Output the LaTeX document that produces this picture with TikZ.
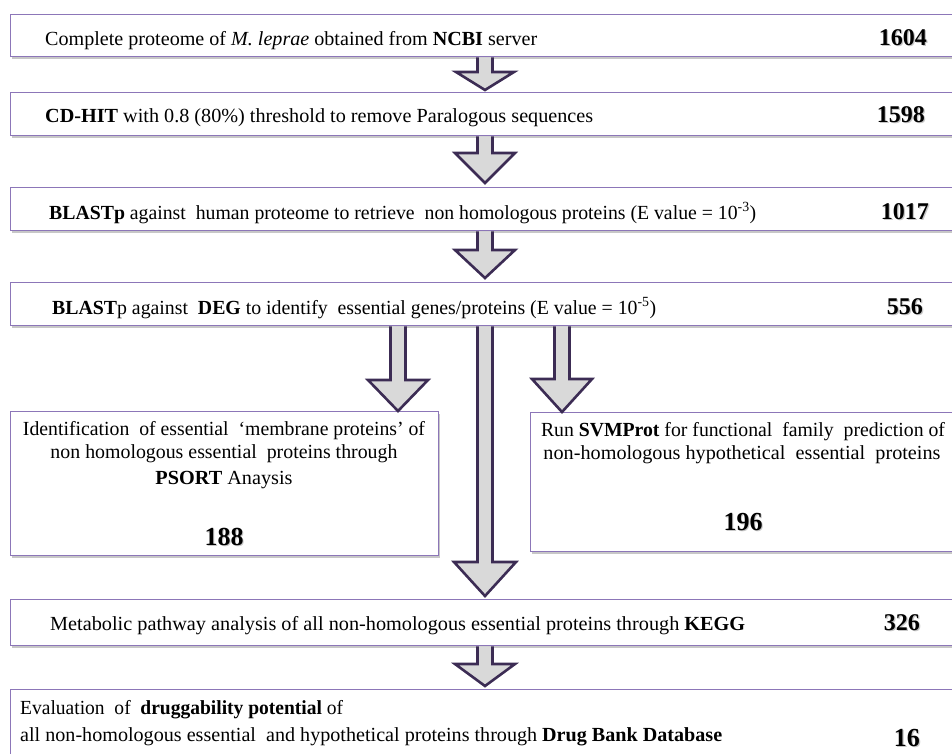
\documentclass[tikz,border=0pt]{standalone}
\usepackage{fontspec}
\setmainfont{Liberation Serif}
\usetikzlibrary{shadows,calc}
\definecolor{boxborder}{RGB}{140,118,184}
\definecolor{arrowline}{RGB}{60,44,84}
\definecolor{arrowfill}{RGB}{217,217,217}
\newcommand\fitw[2]{\resizebox{#1}{\height}{#2}}
\newcommand\shnum[1]{\makebox[0pt][l]{\hspace{1.2pt}\raisebox{-1.2pt}{\color{black!22}#1}}#1}
\newcommand\blockarrow[4]{%
  \draw[barrow] let \p1=#1, \p2=#2 in
    (\x1-7.5pt,\y1) -- (\x1-7.5pt,\y2+#3) -- (\x1-#4,\y2+#3) -- (\x2,\y2)
    -- (\x1+#4,\y2+#3) -- (\x1+7.5pt,\y2+#3) -- (\x1+7.5pt,\y1);}
\tikzset{
  stepbox/.style={draw=boxborder, line width=1.4pt, fill=white, anchor=north west,
    drop shadow={shadow xshift=1.5pt, shadow yshift=-2pt, fill=black!40, opacity=0.55}},
  barrow/.style={draw=arrowline, fill=arrowfill, line width=2.6pt, line join=miter},
  txt/.style={font=\fontsize{20}{25}\selectfont, inner sep=0pt, anchor=base west},
  num/.style={font=\fontsize{24}{26}\selectfont\bfseries, inner sep=0pt, anchor=base east},
  bignum/.style={font=\fontsize{26}{28}\selectfont\bfseries, inner sep=0pt, anchor=base},
}
\begin{document}
\begin{tikzpicture}[x=1pt,y=-1pt]
\useasboundingbox (0,0) rectangle (952,753);
\clip (0,0) rectangle (952,753);
% boxes
\node[stepbox, minimum width=944pt, minimum height=42pt] (b1) at (10,14) {};
\node[stepbox, minimum width=944pt, minimum height=43pt] (b2) at (10,92) {};
\node[stepbox, minimum width=944pt, minimum height=43pt] (b3) at (10,187) {};
\node[stepbox, minimum width=944pt, minimum height=43pt] (b4) at (10,282) {};
\node[stepbox, minimum width=428pt, minimum height=144pt] (bl) at (10,411) {};
\node[stepbox, minimum width=424pt, minimum height=139pt] (br) at (530,412) {};
\node[stepbox, minimum width=944pt, minimum height=46pt] (b5) at (10,599) {};
\node[stepbox, minimum width=944pt, minimum height=80pt] (b6) at (10,689) {};
% arrow axes
\coordinate (cx) at (485,0);
\coordinate (cl) at (398,0);
\coordinate (cr) at (562,0);
% arrows
\blockarrow{(cx |- b1.south)}{($(cx |- b2.north)+(0,-2)$)}{18pt}{29pt}
\blockarrow{(cx |- b2.south)}{($(cx |- b3.north)+(0,-4)$)}{30pt}{30pt}
\blockarrow{(cx |- b3.south)}{($(cx |- b4.north)+(0,-4)$)}{28pt}{30pt}
\blockarrow{(cl |- b4.south)}{(cl |- bl.north)}{31pt}{30pt}
\blockarrow{(cr |- b4.south)}{(cr |- br.north)}{33pt}{30pt}
\blockarrow{(cx |- b4.south)}{($(cx |- b5.north)+(0,-3)$)}{34pt}{31pt}
\blockarrow{(cx |- b5.south)}{($(cx |- b6.north)+(0,-3)$)}{22pt}{30pt}
% texts
\node[txt] (t1) at (45,45) {\fitw{492pt}{Complete proteome of \textit{M. leprae} obtained from \textbf{NCBI} server}};
\node[txt] (t2) at (45,122) {\fitw{548pt}{\textbf{CD-HIT} with 0.8 (80\%) threshold to remove Paralogous sequences}};
\node[txt] (t3) at (49,219) {\fitw{707pt}{\textbf{BLASTp} against \ human proteome to retrieve \ non homologous proteins (E value = 10\textsuperscript{-3})}};
\node[txt] (t4) at (52,314) {\fitw{604pt}{\textbf{BLAST}p against \ \textbf{DEG} to identify \ essential genes/proteins (E value = 10\textsuperscript{-5})}};
\node[txt] (t5) at (50,630) {\fitw{695pt}{Metabolic pathway analysis of all non-homologous essential proteins through \textbf{KEGG}}};
\node[txt] (t6a) at (20,714) {\fitw{323pt}{Evaluation \ of \ \textbf{druggability potential} of}};
\node[txt] (t6b) at (20,741) {\fitw{702pt}{all non-homologous essential \ and hypothetical proteins through \textbf{Drug Bank Database}}};
\node[txt, anchor=base] (l1) at (224,435) {\fitw{402pt}{Identification \ of essential \ ‘membrane proteins’ of}};
\node[txt, anchor=base] (l2) at (224,458) {\fitw{347pt}{non homologous essential \ proteins through}};
\node[txt, anchor=base] (l3) at (224,484) {\fitw{137pt}{\textbf{PSORT} Anaysis}};
\node[txt, anchor=base] (r1) at (743,436) {\fitw{404pt}{Run \textbf{SVMProt} for functional \ family \ prediction of}};
\node[txt, anchor=base] (r2) at (742,459) {\fitw{397pt}{non-homologous hypothetical \ essential \ proteins}};
% numbers
\node[num] (n1) at (927,45) {\shnum{1604}};
\node[num] (n2) at (925,122) {\shnum{1598}};
\node[num] (n3) at (929,219) {\shnum{1017}};
\node[num] (n4) at (923,314) {\shnum{556}};
\node[num] (n5) at (920,630) {\shnum{326}};
\node[bignum, anchor=base east] (n6) at (920,746) {\shnum{16}};
\node[bignum] (n7) at (224,545) {\shnum{188}};
\node[bignum] (n8) at (743,530) {\shnum{196}};
\end{tikzpicture}
\end{document}
